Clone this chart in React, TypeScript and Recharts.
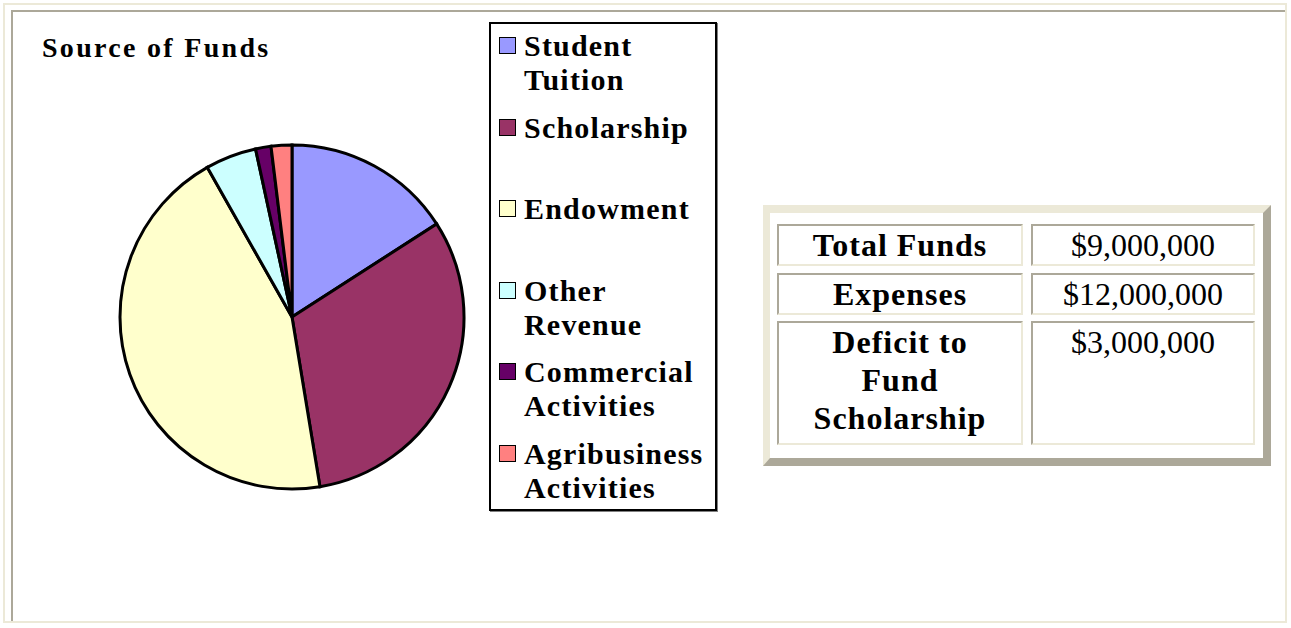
import React from 'react';
import { PieChart, Pie, Cell, Legend } from 'recharts';

const categories = [
  'Student Tuition',
  'Scholarship',
  'Endowment',
  'Other Revenue',
  'Commercial Activities',
  'Agribusiness Activities',
];
const shares = [15.9, 31.5, 44.4, 4.8, 1.45, 1.95];
const colors = ['#9999FF', '#993366', '#FFFFCC', '#CCFFFF', '#660066', '#FF8080'];
const title = 'Source of Funds';
const tableLabels = ['Total Funds', 'Expenses', 'Deficit to Fund Scholarship'];
const tableValues = ['$9,000,000', '$12,000,000', '$3,000,000'];

const data = categories.map((name, i) => ({ name, value: shares[i], fill: colors[i] }));

const SERIF = '"Liberation Serif", "Times New Roman", serif';
const BEIGE = '#ECE9D8';
const GRAY = '#ACA899';

function LegendBox(props: any) {
  const payload: any[] = [...(props.payload || [])].sort(
    (a, b) => categories.indexOf(String(a.value)) - categories.indexOf(String(b.value)),
  );
  return (
    <div
      style={{
        boxSizing: 'border-box',
        width: 228,
        height: 489,
        border: '2px solid #000',
        boxShadow: '1px 1px 0 #808080',
        background: '#fff',
        paddingTop: 5,
        fontFamily: SERIF,
        fontWeight: 'bold',
        fontSize: 30,
        lineHeight: '34px',
        letterSpacing: 1.2,
        color: '#000',
        textAlign: 'left',
      }}
    >
      {payload.map((p, i) => {
        const name = String(p.value);
        const idx = categories.indexOf(name);
        const c = idx >= 0 ? colors[idx] : p.color;
        return (
          <div key={i} style={{ height: 81.5, display: 'flex', alignItems: 'flex-start' }}>
            <div
              style={{
                boxSizing: 'border-box',
                width: 17,
                height: 17,
                marginTop: 8,
                marginLeft: 8,
                marginRight: 8,
                border: '1.5px solid #000',
                background: c,
                flex: 'none',
              }}
            />
            <div>
              {name.split(' ').map((w, j) => (
                <div key={j}>{w}</div>
              ))}
            </div>
          </div>
        );
      })}
    </div>
  );
}

const cellBase: React.CSSProperties = {
  boxSizing: 'border-box',
  borderTop: `2px solid ${GRAY}`,
  borderLeft: `2px solid ${GRAY}`,
  borderBottom: `2px solid ${BEIGE}`,
  borderRight: `2px solid ${BEIGE}`,
  textAlign: 'center',
  fontFamily: SERIF,
  fontSize: 32,
  lineHeight: '38px',
  color: '#000',
  overflow: 'visible',
};

export default function App() {
  return (
    <div style={{ position: 'absolute', left: 0, top: 0, width: 1291, height: 628, background: '#fff' }}>
      <div
        style={{
          position: 'absolute',
          left: 3,
          top: 3,
          width: 1284,
          height: 620,
          boxSizing: 'border-box',
          border: `2px solid ${BEIGE}`,
        }}
      />
      <div
        style={{
          position: 'absolute',
          left: 11,
          top: 10,
          width: 1274,
          height: 611,
          boxSizing: 'border-box',
          borderTop: `2px solid ${GRAY}`,
          borderLeft: `2px solid ${GRAY}`,
        }}
      />
      <div style={{ position: 'absolute', left: 0, top: 0 }}>
        <PieChart width={1291} height={628} margin={{ top: 0, right: 0, bottom: 0, left: 0 }}>
          <Pie
            data={data}
            dataKey="value"
            nameKey="name"
            cx={292}
            cy={317}
            outerRadius={172}
            startAngle={90}
            endAngle={-270}
            stroke="#000"
            strokeWidth={3}
            isAnimationActive={false}
            label={false}
            labelLine={false}
          >
            {data.map((d, i) => (
              <Cell key={i} fill={colors[i]} stroke="#000" strokeWidth={3} />
            ))}
          </Pie>
          <Legend
            layout="vertical"
            align="right"
            verticalAlign="middle"
            content={<LegendBox />}
            wrapperStyle={{ left: 489, top: 22, right: 'auto', width: 228, height: 489 }}
          />
        </PieChart>
      </div>
      <div
        style={{
          position: 'absolute',
          left: 42,
          top: 32,
          fontFamily: SERIF,
          fontWeight: 'bold',
          fontSize: 28,
          lineHeight: '32px',
          letterSpacing: 2.3,
          color: '#000',
          whiteSpace: 'nowrap',
        }}
      >
        {title}
      </div>
      <div
        style={{
          position: 'absolute',
          left: 763,
          top: 205,
          width: 508,
          height: 261,
          boxSizing: 'border-box',
          borderTop: `8px solid ${BEIGE}`,
          borderLeft: `7px solid ${BEIGE}`,
          borderRight: `8px solid ${GRAY}`,
          borderBottom: `8px solid ${GRAY}`,
          background: '#fff',
        }}
      >
        <div
          style={{
            position: 'absolute',
            left: 7,
            top: 11,
            display: 'grid',
            gridTemplateColumns: '246px 224px',
            gridTemplateRows: '42px 42px 124px',
            columnGap: 8,
            rowGap: 6.5,
          }}
        >
          {tableLabels.map((lab, i) => (
            <React.Fragment key={i}>
              <div style={{ ...cellBase, fontWeight: 'bold', letterSpacing: 1 }}>
                <div style={{ maxWidth: 190, margin: '0 auto' }}>{lab}</div>
              </div>
              <div style={{ ...cellBase }}>{tableValues[i]}</div>
            </React.Fragment>
          ))}
        </div>
      </div>
    </div>
  );
}
